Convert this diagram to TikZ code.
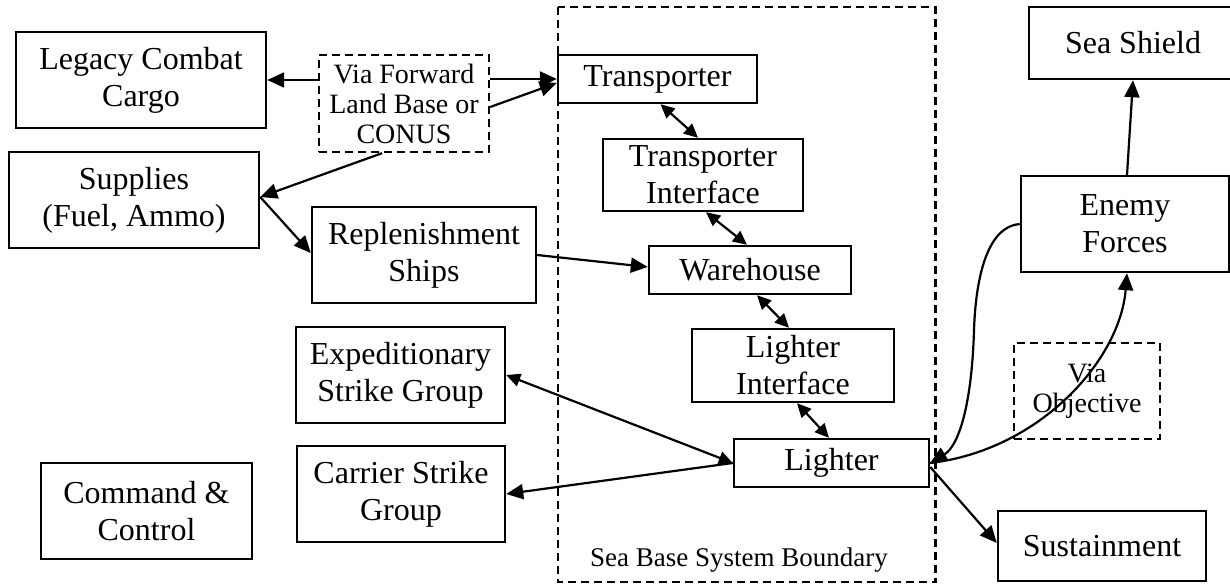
\documentclass[tikz,border=0pt]{standalone}
\usepackage{fontspec}
\setmainfont{Liberation Serif}
\usetikzlibrary{arrows.meta,calc}
\begin{document}
\begin{tikzpicture}[x=0.5pt,y=-0.5pt,
  box/.style={draw, line width=1.2pt, rectangle, inner sep=0pt, align=center, font=\fontsize{16}{18.5}\selectfont},
  dbox/.style={box, dash pattern=on 4pt off 2.5pt, font=\fontsize{14}{15}\selectfont},
  arr/.style={line width=1.1pt, -{Triangle[length=8.5pt,width=7.5pt]}},
  darr/.style={line width=1.1pt, {Triangle[length=7pt,width=6.5pt]}-{Triangle[length=7pt,width=6.5pt]}},
  lbl/.style={inner sep=0pt, font=\fontsize{13.5}{15}\selectfont}
]
\path[use as bounding box] (0,0) rectangle (1230,583);
\clip (0,0) rectangle (1230,583);

% boundary
\draw[line width=1.2pt, dash pattern=on 4pt off 2.5pt] (558,7) rectangle (935.5,582);
\node[lbl] (blabel) at (739,560) {Sea Base System Boundary};

% boxes
\node[box, minimum width=125pt, minimum height=48pt] (legacy) at (141,80) {Legacy Combat\\Cargo};
\node[dbox, minimum width=85pt, minimum height=48.5pt] (via) at (404,103.5) {Via Forward\\Land Base or\\CONUS};
\node[box, minimum width=125pt, minimum height=48pt] (supplies) at (134,200) {Supplies\\(Fuel, Ammo)};
\node[box, minimum width=112pt, minimum height=48pt] (repl) at (424,255) {Replenishment\\Ships};
\node[box, minimum width=99.5pt, minimum height=24pt] (tp) at (657.5,79) {Transporter};
\node[box, minimum width=100pt, minimum height=36pt] (ti) at (703,175) {Transporter\\Interface};
\node[box, minimum width=101pt, minimum height=24pt] (wh) at (750,270) {Warehouse};
\node[box, minimum width=101pt, minimum height=36.5pt] (li) at (793,365.5) {Lighter\\Interface};
\node[box, minimum width=97.5pt, minimum height=24pt] (lighter) at (831.5,463) {Lighter};
\node[box, minimum width=104pt, minimum height=36pt] (shield) at (1133,43) {Sea Shield};
\node[box, minimum width=104pt, minimum height=48pt] (enemy) at (1125,224) {Enemy\\Forces};
\node[dbox, minimum width=73pt, minimum height=48pt] (obj) at (1087,391) {Via\\Objective};
\node[box, minimum width=104pt, minimum height=35pt] (sust) at (1102,546) {Sustainment};
\node[box, minimum width=104.5pt, minimum height=48pt] (esg) at (400.5,375) {Expeditionary\\Strike Group};
\node[box, minimum width=104pt, minimum height=48pt] (csg) at (401,494) {Carrier Strike\\Group};
\node[box, minimum width=105.5pt, minimum height=48pt] (cc) at (146.5,511) {Command \&\\Control};

% connectors
\draw[arr] ($(via.west)+(0,-23.5)$) -- (legacy.east);
\draw[arr] ($(via.east)+(0,-24.5)$) -- (tp.west);
\draw[arr] ($(via.east)+(0,3.5)$) -- ($(tp.west)+(0,4)$);
\draw[arr] ($(via.south)+(-22,0)$) -- ($(supplies.east)+(0,-3)$);
\draw[arr] ($(supplies.east)+(0,-3)$) -- ($(repl.west)+(0,-2)$);
\draw[arr] (repl.east) -- ($(wh.west)+(0,-3)$);
\draw[darr] ($(tp.south)+(3,0)$) -- ($(ti.north)+(-5,0)$);
\draw[darr] ($(ti.south)+(3,0)$) -- ($(wh.north)+(-3,0)$);
\draw[darr] ($(wh.south)+(7,0)$) -- ($(li.north)+(-4,0)$);
\draw[darr] ($(li.south)+(4,0)$) -- ($(lighter.north)+(-2.5,0)$);
\draw[darr] (esg.east) -- (lighter.west);
\draw[arr] (lighter.west) -- (csg.east);
\coordinate (c1) at (974,330);
\draw[arr] (enemy.west) .. controls (990,226) and (976,270) .. (c1) .. controls (972,400) and (960,445) .. (lighter.east);
\draw[arr] (lighter.east) .. controls (1040,450) and (1120,360) .. ($(enemy.south)+(2,0)$);
\draw[arr] ($(enemy.north)+(2,0)$) -- (shield.south);
\draw[arr] ($(lighter.east)+(0,4)$) -- ($(sust.west)+(0,-3)$);
\end{tikzpicture}
\end{document}
